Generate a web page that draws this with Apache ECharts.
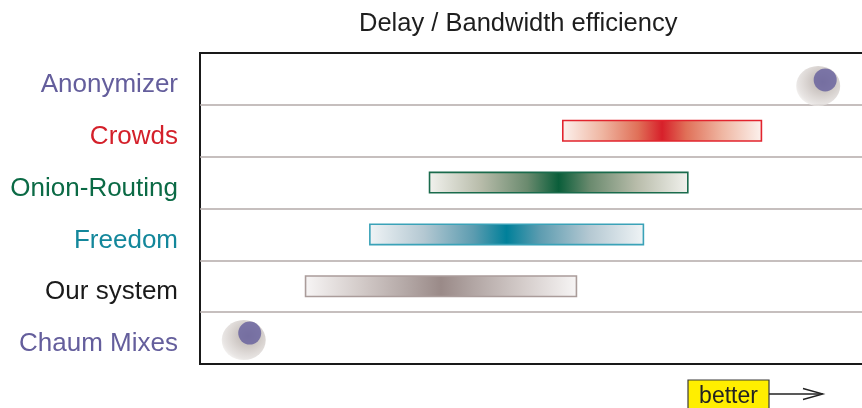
<!DOCTYPE html>
<html>
<head>
<meta charset="utf-8">
<script src="https://cdn.jsdelivr.net/npm/echarts@6/dist/echarts.min.js"></script>
<style>
html,body{margin:0;padding:0;background:#fff;}
#chart{width:862px;height:408px;}
</style>
</head>
<body>
<div id="chart"></div>
<script>
// ---- data ----
var categories = ['Anonymizer', 'Crowds', 'Onion-Routing', 'Freedom', 'Our system', 'Chaum Mixes'];
var rangeStart = [null, 54.6, 34.5, 25.5, 15.8, null];
var rangeEnd   = [null, 84.8, 73.7, 67.0, 56.9, null];
var pointValue = [94.3, null, null, null, null, 7.5];
var titleText = 'Delay / Bandwidth efficiency';
var betterText = 'better';

// ---- styles ----
var labelColors = ['#645e9c', '#d4202a', '#0b6a45', '#13879b', '#1a1a1a', '#645e9c'];
// gradient ramps: [edge, light, mid, centre]
var barRamp = [
  null,
  ['#fcf2ee', '#efb6a2', '#e07058', '#d7202a'],
  ['#f2f2ee', '#b8bcaa', '#6a8a6e', '#0a5e3a'],
  ['#f0f4f6', '#b4c8d2', '#5c9cb0', '#00809a'],
  ['#f7f5f5', '#d4ccca', '#b2a6a4', '#9a8a88'],
  null
];
var barBorder = [null, '#e2242e', '#1a6b4c', '#3aa2b8', '#aa9c9a', null];
// marker offsets (pixels): dot and its halo
var dotOffset  = [[0, 1], null, null, null, null, [0, -5]];
var haloOffset = [[-7, 7], null, null, null, null, [-6, 2]];
var FONT = '"Liberation Sans", Arial, Helvetica, sans-serif';

var baseData = [], lenData = [], dotData = [], haloData = [];
for (var i = 0; i < categories.length; i++) {
  if (rangeStart[i] == null) {
    baseData.push('-');
    lenData.push('-');
  } else {
    var r = barRamp[i];
    baseData.push(rangeStart[i]);
    lenData.push({
      value: +(rangeEnd[i] - rangeStart[i]).toFixed(2),
      itemStyle: {
        color: {
          type: 'linear', x: 0, y: 0, x2: 1, y2: 0,
          colorStops: [
            {offset: 0, color: r[0]},
            {offset: 0.2, color: r[1]},
            {offset: 0.38, color: r[2]},
            {offset: 0.5, color: r[3]},
            {offset: 0.62, color: r[2]},
            {offset: 0.8, color: r[1]},
            {offset: 1, color: r[0]}
          ]
        },
        borderColor: barBorder[i],
        borderWidth: 1.6
      }
    });
  }
  if (pointValue[i] != null) {
    dotData.push({value: [pointValue[i], categories[i]], symbolOffset: dotOffset[i]});
    haloData.push({value: [pointValue[i], categories[i]], symbolOffset: haloOffset[i]});
  }
}

var splitColors = ['#1a1a1a'];
for (var k = 1; k < categories.length; k++) splitColors.push('#b3aaa9');
splitColors.push('#1a1a1a');

var chart = echarts.init(document.getElementById('chart'));
chart.setOption({
  animation: false,
  backgroundColor: '#ffffff',
  title: {
    text: titleText,
    left: 354, top: 6,
    textStyle: {fontFamily: FONT, fontSize: 25.5, fontWeight: 'normal', color: '#1e1e1e'}
  },
  grid: {
    left: 200, width: 672, top: 53, bottom: 44,
    outerBoundsMode: 'none', containLabel: false,
    show: true, borderColor: '#1a1a1a', borderWidth: 2, backgroundColor: 'transparent'
  },
  xAxis: {
    type: 'value', min: 0, max: 101.36, show: false,
    splitLine: {show: false}
  },
  yAxis: {
    type: 'category', data: categories, inverse: true,
    axisLine: {show: false}, axisTick: {show: false},
    splitLine: {show: true, lineStyle: {color: splitColors, width: 1.5}},
    axisLabel: {
      margin: 22, fontFamily: FONT, fontSize: 26,
      color: function (v) { return labelColors[categories.indexOf(v)]; },
      formatter: function (v) { return '{a|' + v + '}'; },
      rich: {a: {fontFamily: FONT, fontSize: 26, padding: [12, 0, 0, 0]}}
    }
  },
  series: [
    {
      type: 'bar', stack: 'r', data: baseData, barWidth: 22, silent: true,
      itemStyle: {color: 'transparent'}
    },
    {
      type: 'bar', stack: 'r', data: lenData, barWidth: 22
    },
    {
      type: 'scatter', data: haloData, z: 3,
      symbol: 'circle', symbolSize: [44, 40],
      itemStyle: {
        color: {
          type: 'radial', x: 0.6, y: 0.4, r: 0.62,
          colorStops: [
            {offset: 0, color: '#a8a09c'},
            {offset: 0.4, color: '#c2bab6'},
            {offset: 0.7, color: '#d6d0cd'},
            {offset: 0.92, color: '#e3dfdd'},
            {offset: 1, color: '#ece9e7'}
          ]
        }
      }
    },
    {
      type: 'scatter', data: dotData, z: 4,
      symbol: 'circle', symbolSize: 23,
      itemStyle: {color: '#645e9c'}
    }
  ],
  graphic: [
    {
      type: 'rect', shape: {x: 688, y: 380, width: 81, height: 34},
      style: {fill: '#ffee00', stroke: '#3a3a3a', lineWidth: 1.2}, z: 10
    },
    {
      type: 'text', x: 728.5, y: 397, z: 11,
      style: {text: betterText, fill: '#222', font: '23px ' + FONT, textAlign: 'center', textVerticalAlign: 'middle'}
    },
    {
      type: 'polyline', shape: {points: [[769, 394], [822, 394]]},
      style: {stroke: '#222', lineWidth: 1.3}, z: 10
    },
    {
      type: 'polyline', shape: {points: [[803, 388.5], [823, 394], [803, 399.5]]},
      style: {stroke: '#222', lineWidth: 1.3, fill: null}, z: 10
    }
  ]
});
</script>
</body>
</html>
